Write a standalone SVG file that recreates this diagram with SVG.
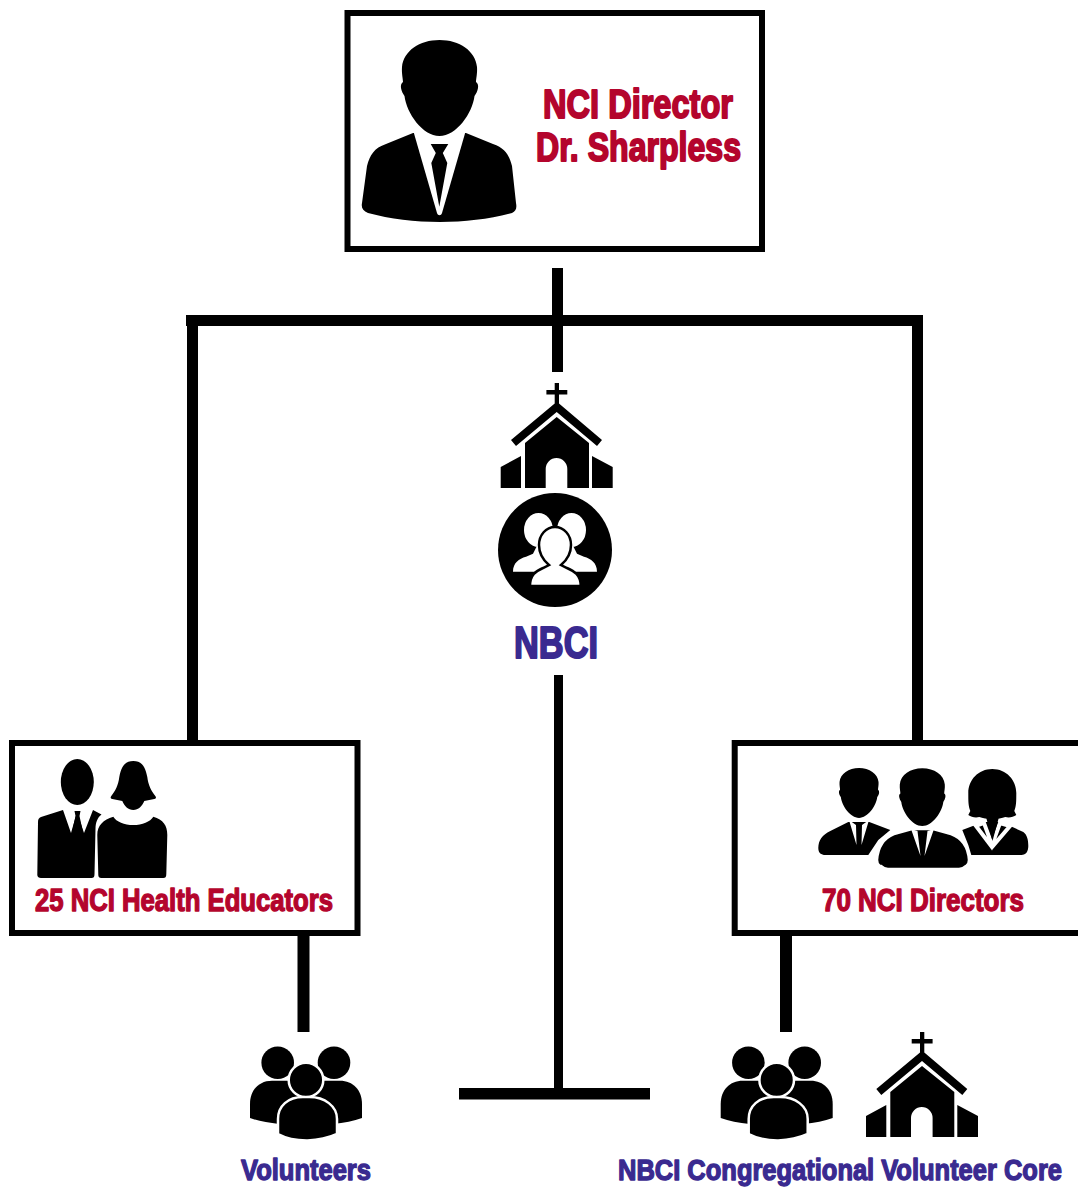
<svg xmlns="http://www.w3.org/2000/svg" width="1078" height="1194" viewBox="0 0 1078 1194">
<style>
.box{fill:#fff;stroke:#000;stroke-width:6}
.wire{fill:#000;stroke:none}
.k{fill:#000}
.w{fill:#fff}
.o{stroke:#fff;stroke-width:2.5}
text{font-family:"Liberation Sans Narrow","Liberation Sans",Arial,sans-serif;font-weight:700;stroke-width:1.4;paint-order:stroke;stroke-linejoin:round}
.big{stroke-width:2}
.red{fill:#b4052d;stroke:#b4052d}
.pur{fill:#3a2a90;stroke:#3a2a90}
</style>
<defs>
<path id="head" class="k" d="M439.500 40c20 0 36 11 37.500 27 .5 6-1 12-1 15 1.500 1 2.500 3 2 6-.5 3-2 6-3.500 8-2 17-18 40-35 40s-33-23-35-40c-1.500-2-3-5-3.500-8-.5-3 .5-5 2-6 0-3-1.500-9-1-15 1.500-16 17.500-27 37.500-27z"/>
<g id="church">
<path class="k" d="M554.700 383h4.300v7h8.300v4.500H559v9L602 440l-5 6-40.300-34-40.700 34-5-6 43.700-36.500v-9h-8.300V390h8.300z"/>
<path class="k" d="M556.700 417l32.300 26v45h-21.700v-19a10.800 11 0 0 0-21.600 0v19H525v-45z"/>
<path class="k" d="M500.700 467l20.300-11v32h-20.300zM592 456l20.700 11v21H592z"/>
</g>
<g id="crowd">
<circle class="k" cx="277.700" cy="1062.700" r="16.300"/>
<circle class="k" cx="334" cy="1062.700" r="16.300"/>
<path class="k" d="M250 1118v-14c0-14 9-23.300 22-23.300h68c13 0 22 9.300 22 23.300v14c-8 3-18 5-29 6h-54c-11-1-21-3-29-6z"/>
<circle class="k o" cx="306" cy="1080" r="17.300"/>
<path class="k o" d="M278 1134v-15c0-13 10-22 25-22h6.500c15 0 27.500 9 27.500 22v15c-17 8-42 9-59 0z"/>
</g>
</defs>
<rect width="1078" height="1194" fill="#fff"/>
<g id="connectors">
<rect class="wire" x="552" y="268" width="11" height="104"/>
<rect class="wire" x="186" y="315" width="737" height="11"/>
<rect class="wire" x="187" y="315" width="11" height="426"/>
<rect class="wire" x="912" y="315" width="11" height="426"/>
<rect class="wire" x="297.500" y="935" width="12" height="97"/>
<rect class="wire" x="780" y="935" width="12" height="97"/>
<rect class="wire" x="554" y="675" width="9" height="415"/>
<rect class="wire" x="459" y="1088" width="191" height="11.500"/>
</g>
<g id="node-director">
<rect class="box" x="347.500" y="13" width="414.500" height="236"/>
<path class="k" d="M413 133l-27 11c-12 4-16 11-19 22l-5 37c-1 5 1 8 6 10 22 6 47 9 72 9 25 0 50-3 72-9 4-2 5-5 4-10l-4-37c-3-11-7-18-19-22l-27-11z"/>
<path class="w" d="M413 130h53l-24 83c-1 3-4 3-5 0z"/>
<path class="k" d="M430.700 144h17.600l-5.500 9 4.500 10-8 43.700-8-43.700 4.500-10z"/>
<use href="#head"/>
<text class="red big" x="543" y="117.500" font-size="41" textLength="190" lengthAdjust="spacingAndGlyphs">NCI Director</text>
<text class="red big" x="536" y="161" font-size="41" textLength="205" lengthAdjust="spacingAndGlyphs">Dr. Sharpless</text>
</g>
<g id="node-nbci">
<use href="#church"/>
<circle class="k" cx="555" cy="550" r="57"/>
<ellipse class="w" cx="538.500" cy="530" rx="14.500" ry="17"/>
<ellipse class="w" cx="571.500" cy="530" rx="14.500" ry="17"/>
<path class="w" d="M513 571.700c0-9 6-13 13-15l7-3 4-8h36l4 8 7 3c7 2 13 6 13 15z"/>
<path class="w" d="M530 586c0-11 6-15 13-18l6-3c-6-5-10-12-10-20 0-10 7-18 16-18s16 8 16 18c0 8-4 15-10 20l6 3c7 3 13.700 7 13.700 18z" stroke="#000" stroke-width="2.500"/>
<text class="pur big" x="514" y="658" font-size="45" textLength="84" lengthAdjust="spacingAndGlyphs">NBCI</text>
</g>
<g id="node-educators">
<rect class="box" x="12" y="743" width="345.500" height="190"/>
<ellipse class="k" cx="77.300" cy="782" rx="16.500" ry="23"/>
<path class="k" d="M38 822c0-3 1-4 3-5l22-7 8 23 6-21 7 21 9-23 8.500 4.500c-4 3-6 8-6 14l-1 45.500c0 3-1 4-3 4H41c-2 0-3.700-1-3.700-3z"/>
<path class="k" d="M74.500 811h6l-1 5 3 14-5 9-5-9 3-14z"/>
<path class="k" d="M133.300 761c9 0 12 6 14 16 1 8 4 14 8 19 1 1 1 3-1 3l-10 2c-2 5-6 9-11 9s-9-4-11-9l-10-2c-2 0-2-2-1-3 4-5 7-11 8-19 2-10 5-16 14-16z"/>
<path class="k" d="M97.300 835c0-10 6-15 16-18.300 3 5 11 8.300 20 8.300s17-3.300 20-8.300c10 3.300 14 8.300 14 18.300l-1 39c0 3-1 4-3 4h-62c-2 0-3-1-3-3z"/>
<text class="red" x="35" y="910.500" font-size="31" textLength="298" lengthAdjust="spacingAndGlyphs">25 NCI Health Educators</text>
</g>
<g id="node-directors">
<path class="box" d="M1082 743H734.700v190H1082"/>
<use href="#head" transform="translate(630.500 747.200) scale(.52)"/>
<path class="k" d="M818.300 848c0-8 4-13 12-17l18-9h21l21 8-12 10-10 15h-43c-4 0-7-2-7-7z"/>
<path class="w" d="M849 820l7 5 .5 20zM869 820l-7 5-.5 20z"/>
<path class="k" d="M992.300 769c14 0 24 11 24 24 0 8 0 13-2 18l2 4c-3 2-7 3-11 2-3 1-8 2-13 2s-10-1-13-2c-4 1-8 0-11-2l2-4c-2-5-2-10-2-18 0-13 10-24 24-24z"/>
<path class="k" d="M962.300 830l21-8h18l22 10c4 3 5 8 5 14 0 5-2 9-7 9h-50l-3-10z"/>
<path fill="none" stroke="#fff" stroke-width="4" d="M976 826l8-3 8 22 8-22 10 3-18 21z"/>
<path class="k" d="M986 817h13l-6.500 24z"/>
<path class="k o" d="M880 866c-2-1-3-3-3-6 1-14 7-22 17-26l18-5h21l18 5c11 4 17 12 18 26 0 3-1 5-3 6-2 2-4 3-7 3h-71c-3 0-5-1-7-3z"/>
<path class="w" d="M911 829l6.500 2 3 25zM934 829l-6.500 2-3 25z"/>
<use href="#head" transform="translate(658.600 744.300) scale(.6)"/>
<text class="red" x="822" y="911" font-size="31" textLength="202" lengthAdjust="spacingAndGlyphs">70 NCI Directors</text>
</g>
<g id="node-volunteers">
<use href="#crowd"/>
<text class="pur" x="241" y="1180" font-size="30" textLength="130" lengthAdjust="spacingAndGlyphs">Volunteers</text>
</g>
<g id="node-core">
<use href="#crowd" x="470.700"/>
<use href="#church" x="365.300" y="649"/>
<text class="pur" transform="translate(618 1179.500) scale(.8 1)" font-size="30" textLength="555" lengthAdjust="spacingAndGlyphs">NBCI Congregational Volunteer Core</text>
</g>
</svg>
